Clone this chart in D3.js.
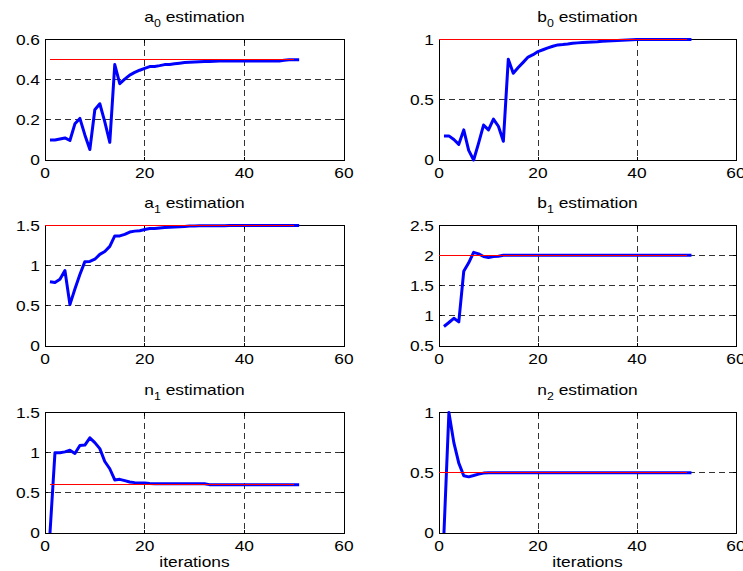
<!DOCTYPE html>
<html>
<head>
<meta charset="utf-8">
<script src="https://cdn.jsdelivr.net/npm/d3@7"></script>
<style>
  html, body { margin: 0; padding: 0; background: #fff; overflow: hidden; }
  svg { display: block; }
</style>
</head>
<body>
<svg id="chart" width="743" height="571"></svg>
<script>
// ---------------- DATA ----------------
const iterations = d3.range(1, 52); // 1..51

const a0Values = [0.10, 0.10, 0.105, 0.11, 0.097, 0.18, 0.207, 0.125, 0.052, 0.25,
  0.28, 0.19, 0.088, 0.475, 0.38, 0.403, 0.423, 0.436, 0.447, 0.456,
  0.465, 0.466, 0.47, 0.475, 0.476, 0.479, 0.482, 0.485, 0.487, 0.488,
  0.489, 0.49, 0.491, 0.492, 0.493, 0.493, 0.493, 0.493, 0.493, 0.493,
  0.493, 0.493, 0.493, 0.493, 0.493, 0.493, 0.493, 0.497, 0.499, 0.499, 0.499];

const b0Values = [0.2, 0.2, 0.17, 0.13, 0.25, 0.08, 0.0, 0.14, 0.29, 0.25,
  0.34, 0.28, 0.155, 0.837, 0.72, 0.767, 0.81, 0.854, 0.874, 0.9,
  0.915, 0.93, 0.944, 0.955, 0.958, 0.962, 0.968, 0.972, 0.975, 0.978,
  0.98, 0.982, 0.985, 0.987, 0.989, 0.992, 0.994, 0.996, 0.998, 0.999,
  0.999, 0.999, 1.0, 1.0, 1.0, 1.0, 1.0, 1.0, 1.0, 1.0, 1.0];

const a1Values = [0.80, 0.79, 0.83, 0.94, 0.515, 0.71, 0.89, 1.05, 1.053, 1.08,
  1.14, 1.176, 1.24, 1.37, 1.37, 1.39, 1.418, 1.43, 1.435, 1.45,
  1.463, 1.463, 1.47, 1.475, 1.478, 1.481, 1.484, 1.487, 1.493, 1.495,
  1.496, 1.497, 1.497, 1.498, 1.498, 1.498, 1.499, 1.499, 1.499, 1.499,
  1.5, 1.5, 1.5, 1.5, 1.5, 1.5, 1.5, 1.5, 1.5, 1.5, 1.5];

const b1Values = [0.824, 0.89, 0.96, 0.90, 1.74, 1.88, 2.055, 2.03, 1.985, 1.967,
  1.985, 1.99, 2.005, 2.005, 2.005, 2.005, 2.005, 2.005, 2.005, 2.005,
  2.005, 2.005, 2.005, 2.005, 2.005, 2.005, 2.005, 2.005, 2.005, 2.005,
  2.005, 2.005, 2.005, 2.005, 2.005, 2.005, 2.005, 2.005, 2.005, 2.005,
  2.005, 2.005, 2.005, 2.005, 2.005, 2.005, 2.005, 2.005, 2.005, 2.005, 2.005];

const n1Values = [0, 1.0, 1.0, 1.01, 1.03, 0.99, 1.09, 1.095, 1.185, 1.125,
  1.05, 0.89, 0.80, 0.66, 0.668, 0.652, 0.635, 0.627, 0.623, 0.623,
  0.615, 0.612, 0.612, 0.612, 0.612, 0.612, 0.612, 0.612, 0.612, 0.612,
  0.612, 0.612, 0.602, 0.6, 0.6, 0.6, 0.6, 0.6, 0.6, 0.6,
  0.6, 0.6, 0.6, 0.6, 0.6, 0.6, 0.6, 0.6, 0.6, 0.6, 0.6];

const n2Values = [0, 1.0, 0.75, 0.58, 0.475, 0.466, 0.477, 0.489, 0.497, 0.5,
  0.5, 0.5, 0.5, 0.5, 0.5, 0.5, 0.5, 0.5, 0.5, 0.5,
  0.5, 0.5, 0.5, 0.5, 0.5, 0.5, 0.5, 0.5, 0.5, 0.5,
  0.5, 0.5, 0.5, 0.5, 0.5, 0.5, 0.5, 0.5, 0.5, 0.5,
  0.5, 0.5, 0.5, 0.5, 0.5, 0.5, 0.5, 0.5, 0.5, 0.5, 0.5];

const paramNames   = ["a", "b", "a", "b", "n", "n"];
const paramSubs    = ["0", "0", "1", "1", "1", "2"];
const trueValues   = [0.5, 1.0, 1.5, 2.0, 0.6, 0.5];
const trueStart    = [1, 0, 0, 0, 1, 0];
const trueEnd      = [50, 50, 50, 50, 50, 50];
const yDomains     = [[0, 0.6], [0, 1], [0, 1.5], [0.5, 2.5], [0, 1.5], [0, 1]];
const yTickValues  = [[0, 0.2, 0.4, 0.6], [0, 0.5, 1], [0, 0.5, 1, 1.5],
                      [0.5, 1, 1.5, 2, 2.5], [0, 0.5, 1, 1.5], [0, 0.5, 1]];
const xDomain      = [0, 60];
const xTickValues  = [0, 20, 40, 60];
const xLabel       = "iterations";
const seriesList   = [a0Values, b0Values, a1Values, b1Values, n1Values, n2Values];

// ---------------- LAYOUT ----------------
const svg = d3.select("#chart");
const colLeft  = [45, 439];
const colRight = [344, 736];
const rowTop   = [39.5, 225.5, 412.5];
const panelH   = 120.5;
const STRETCH  = 1.24;
const FONT     = "'Liberation Sans', Arial, Helvetica, sans-serif";

function sText(g, x, y, anchor, str, size) {
  return g.append("text")
    .attr("transform", `translate(${x},${y}) scale(${STRETCH},1)`)
    .attr("text-anchor", anchor)
    .attr("font-family", FONT)
    .attr("font-size", size || 14)
    .attr("fill", "#000")
    .text(str);
}
const snap = v => Math.round(v - 0.5) + 0.5;

seriesList.forEach((vals, i) => {
  const col = i % 2, row = Math.floor(i / 2);
  const x0 = colLeft[col], x1 = colRight[col];
  const y0 = rowTop[row], y1 = rowTop[row] + panelH;

  const x = d3.scaleLinear().domain(xDomain).range([x0, x1]);
  const y = d3.scaleLinear().domain(yDomains[i]).range([y1, y0]);
  const g = svg.append("g");

  // grid (interior ticks)
  g.selectAll(".gx").data(xTickValues.filter(v => v > xDomain[0] && v < xDomain[1]))
    .enter().append("line")
    .attr("x1", d => snap(x(d))).attr("x2", d => snap(x(d)))
    .attr("y1", y0).attr("y2", y1)
    .attr("stroke", "#333").attr("stroke-width", 1)
    .attr("stroke-dasharray", "6,4").attr("shape-rendering", "crispEdges");
  const yd = yDomains[i];
  g.selectAll(".gy").data(yTickValues[i].filter(v => v > yd[0] && v < yd[1]))
    .enter().append("line")
    .attr("x1", x0).attr("x2", x1)
    .attr("y1", d => snap(y(d))).attr("y2", d => snap(y(d)))
    .attr("stroke", "#333").attr("stroke-width", 1)
    .attr("stroke-dasharray", "6,4").attr("shape-rendering", "crispEdges");

  // tick marks (inward)
  xTickValues.forEach(v => {
    g.append("line").attr("x1", snap(x(v))).attr("x2", snap(x(v))).attr("y1", y1).attr("y2", y1 - 3)
      .attr("stroke", "#000").attr("shape-rendering", "crispEdges");
    g.append("line").attr("x1", snap(x(v))).attr("x2", snap(x(v))).attr("y1", y0).attr("y2", y0 + 3)
      .attr("stroke", "#000").attr("shape-rendering", "crispEdges");
  });
  yTickValues[i].forEach(v => {
    g.append("line").attr("x1", x0).attr("x2", x0 + 3).attr("y1", snap(y(v))).attr("y2", snap(y(v)))
      .attr("stroke", "#000").attr("shape-rendering", "crispEdges");
    g.append("line").attr("x1", x1).attr("x2", x1 - 3).attr("y1", snap(y(v))).attr("y2", snap(y(v)))
      .attr("stroke", "#000").attr("shape-rendering", "crispEdges");
  });

  // frame (drawn below the data lines)
  g.append("rect").attr("x", snap(x0)).attr("y", snap(y0))
    .attr("width", Math.round(x1 - x0)).attr("height", Math.round(y1 - y0))
    .attr("fill", "none").attr("stroke", "#000").attr("stroke-width", 1)
    .attr("shape-rendering", "crispEdges");

  // estimate line (blue)
  const line = d3.line().x((d, k) => x(iterations[k])).y(d => y(d));
  g.append("path").datum(vals)
    .attr("d", line)
    .attr("fill", "none").attr("stroke", "#0000ff")
    .attr("stroke-width", 3).attr("stroke-linejoin", "round");

  // true value line (red)
  g.append("line")
    .attr("x1", x(trueStart[i])).attr("x2", x(trueEnd[i]))
    .attr("y1", snap(y(trueValues[i]))).attr("y2", snap(y(trueValues[i])))
    .attr("stroke", "#ff0000").attr("stroke-width", 1)
    .attr("shape-rendering", "crispEdges");

  // tick labels
  xTickValues.forEach(v => sText(g, x(v), y1 + 18, "middle", String(v)));
  yTickValues[i].forEach(v => sText(g, x0 - 5, y(v) + 5, "end", String(v)));

  // title
  const t = g.append("text")
    .attr("transform", `translate(${(x0 + x1) / 2},${y0 - 18}) scale(${STRETCH},1)`)
    .attr("text-anchor", "middle")
    .attr("font-family", FONT).attr("font-size", 14).attr("fill", "#000");
  t.append("tspan").text(paramNames[i]);
  t.append("tspan").attr("font-size", 10).attr("dy", 5).text(paramSubs[i]);
  t.append("tspan").attr("dy", -5).text(" estimation");

  if (row === 2) sText(g, (x0 + x1) / 2, 567, "middle", xLabel);
});
</script>
</body>
</html>
